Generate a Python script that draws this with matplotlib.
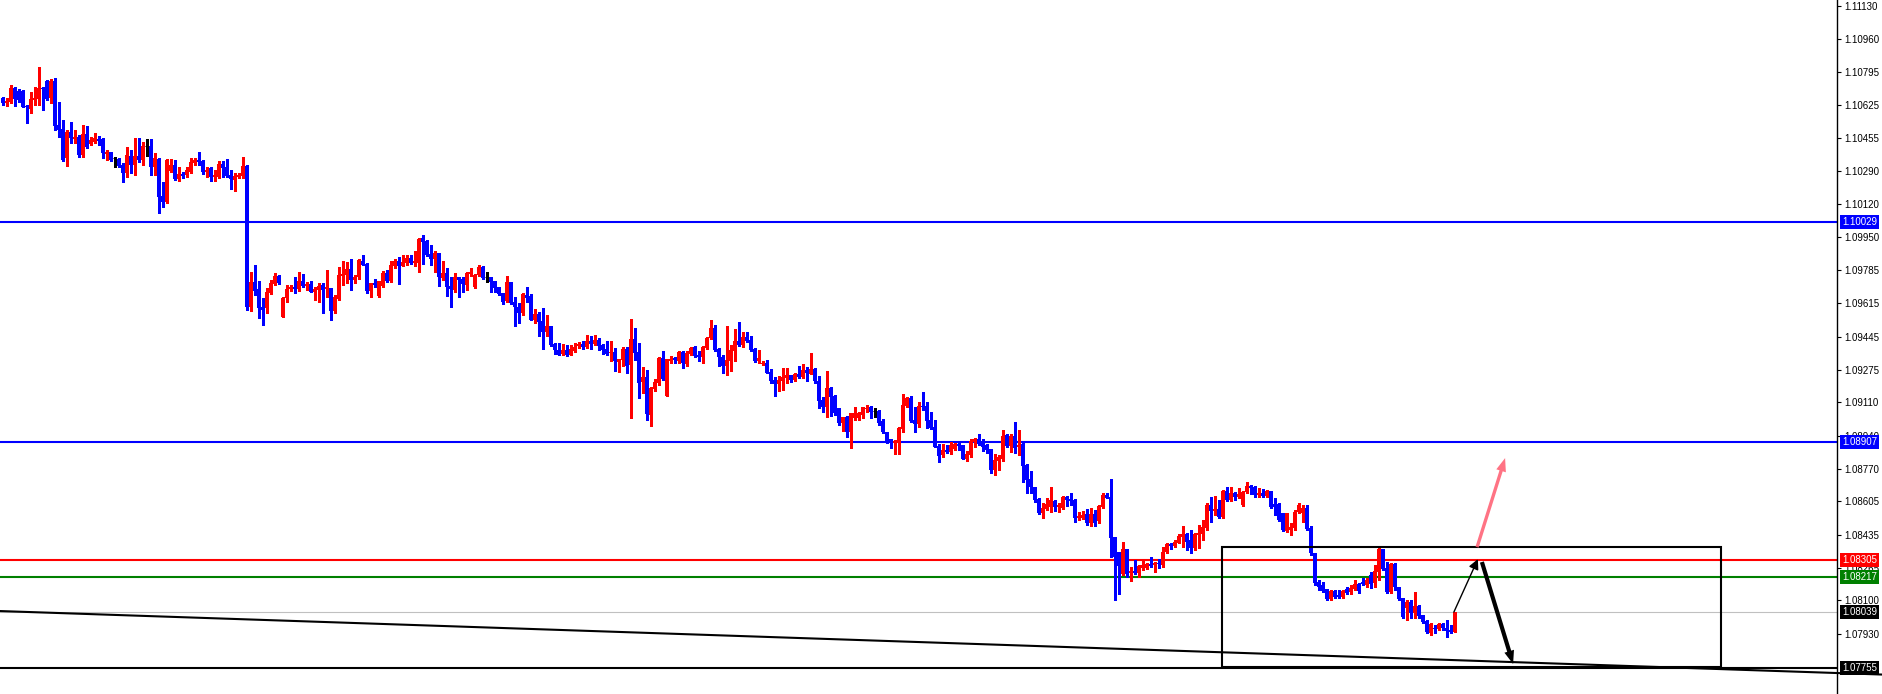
import numpy as np
import matplotlib
matplotlib.use("Agg")
import matplotlib.pyplot as plt
import matplotlib.transforms as mtransforms
from matplotlib.patches import Rectangle

# candle data, oldest bar first
opens = [
    1.10661, 1.10636, 1.10641, 1.10712, 1.10697, 1.10697, 1.10620, 1.10605, 1.10651, 1.10656,
    1.10712, 1.10748, 1.10661, 1.10748, 1.10523, 1.10503, 1.10355, 1.10488, 1.10452, 1.10462,
    1.10370, 1.10477, 1.10427, 1.10437, 1.10452, 1.10452, 1.10376, 1.10386, 1.10353, 1.10350,
    1.10319, 1.10279, 1.10365, 1.10319, 1.10365, 1.10345, 1.10419, 1.10416, 1.10309, 1.10350,
    1.10161, 1.10131, 1.10289, 1.10319, 1.10248, 1.10274, 1.10269, 1.10284, 1.10330, 1.10345,
    1.10340, 1.10284, 1.10304, 1.10258, 1.10258, 1.10325, 1.10309, 1.10269, 1.10243, 1.10258,
    1.10263, 1.10314, 1.09595, 1.09723, 1.09687, 1.09595, 1.09590, 1.09667, 1.09713, 1.09753,
    1.09544, 1.09641, 1.09687, 1.09697, 1.09687, 1.09728, 1.09702, 1.09713, 1.09672, 1.09682,
    1.09707, 1.09687, 1.09692, 1.09575, 1.09636, 1.09753, 1.09758, 1.09789, 1.09733, 1.09748,
    1.09830, 1.09815, 1.09677, 1.09718, 1.09651, 1.09702, 1.09769, 1.09728, 1.09804, 1.09830,
    1.09804, 1.09820, 1.09845, 1.09820, 1.09820, 1.09947, 1.09932, 1.09866, 1.09840, 1.09871,
    1.09743, 1.09769, 1.09702, 1.09682, 1.09748, 1.09738, 1.09707, 1.09764, 1.09697, 1.09758,
    1.09799, 1.09748, 1.09748, 1.09728, 1.09697, 1.09667, 1.09626, 1.09723, 1.09621, 1.09595,
    1.09565, 1.09656, 1.09651, 1.09529, 1.09560, 1.09524, 1.09468, 1.09498, 1.09406, 1.09376,
    1.09355, 1.09376, 1.09350, 1.09371, 1.09396, 1.09406, 1.09391, 1.09422, 1.09406, 1.09427,
    1.09401, 1.09381, 1.09361, 1.09366, 1.09315, 1.09325, 1.09381, 1.09299, 1.09432, 1.09366,
    1.09213, 1.09238, 1.09044, 1.09177, 1.09208, 1.09335, 1.09141, 1.09320, 1.09335, 1.09320,
    1.09366, 1.09305, 1.09355, 1.09391, 1.09350, 1.09340, 1.09386, 1.09437, 1.09488, 1.09381,
    1.09340, 1.09294, 1.09320, 1.09371, 1.09422, 1.09401, 1.09442, 1.09427, 1.09381, 1.09320,
    1.09307, 1.09310, 1.09264, 1.09223, 1.09203, 1.09218, 1.09233, 1.09248, 1.09223, 1.09254,
    1.09238, 1.09274, 1.09254, 1.09279, 1.09218, 1.09121, 1.09085, 1.09182, 1.09141, 1.09080,
    1.09004, 1.09034, 1.08958, 1.09029, 1.09029, 1.09044, 1.09075, 1.09085, 1.09065, 1.09065,
    1.09014, 1.08958, 1.08922, 1.08902, 1.08902, 1.08973, 1.09090, 1.09131, 1.09019, 1.08998,
    1.09090, 1.09090, 1.09019, 1.08983, 1.08886, 1.08840, 1.08866, 1.08856, 1.08871, 1.08897,
    1.08891, 1.08820, 1.08840, 1.08907, 1.08922, 1.08902, 1.08891, 1.08871, 1.08764, 1.08810,
    1.08820, 1.08943, 1.08886, 1.08937, 1.08881, 1.08897, 1.08790, 1.08718, 1.08677, 1.08616,
    1.08545, 1.08565, 1.08575, 1.08606, 1.08575, 1.08570, 1.08626, 1.08616, 1.08611, 1.08519,
    1.08519, 1.08540, 1.08494, 1.08540, 1.08504, 1.08575, 1.08636, 1.08626, 1.08422, 1.08346,
    1.08233, 1.08361, 1.08238, 1.08249, 1.08238, 1.08264, 1.08264, 1.08284, 1.08279, 1.08290,
    1.08279, 1.08346, 1.08386, 1.08376, 1.08392, 1.08422, 1.08437, 1.08407, 1.08366, 1.08432,
    1.08437, 1.08468, 1.08585, 1.08555, 1.08565, 1.08524, 1.08657, 1.08611, 1.08647, 1.08626,
    1.08585, 1.08652, 1.08682, 1.08677, 1.08636, 1.08647, 1.08631, 1.08657, 1.08591, 1.08591,
    1.08545, 1.08453, 1.08458, 1.08468, 1.08550, 1.08545, 1.08570, 1.08468, 1.08341, 1.08193,
    1.08177, 1.08157, 1.08106, 1.08147, 1.08126, 1.08116, 1.08157, 1.08142, 1.08157, 1.08182,
    1.08193, 1.08177, 1.08228, 1.08188, 1.08244, 1.08361, 1.08264, 1.08142, 1.08284, 1.08167,
    1.08111, 1.08060, 1.08091, 1.08035, 1.08070, 1.08024, 1.07994, 1.07933, 1.07958, 1.07953,
    1.07979, 1.07958, 1.07948, 1.07938,
]
highs = [
    1.10666, 1.10661, 1.10727, 1.10717, 1.10707, 1.10702, 1.10625, 1.10692, 1.10717, 1.10819,
    1.10717, 1.10753, 1.10758, 1.10763, 1.10641, 1.10549, 1.10498, 1.10539, 1.10498, 1.10472,
    1.10523, 1.10518, 1.10462, 1.10483, 1.10467, 1.10457, 1.10396, 1.10386, 1.10360, 1.10355,
    1.10330, 1.10411, 1.10396, 1.10457, 1.10457, 1.10437, 1.10452, 1.10452, 1.10381, 1.10355,
    1.10233, 1.10350, 1.10350, 1.10345, 1.10309, 1.10284, 1.10309, 1.10355, 1.10355, 1.10386,
    1.10345, 1.10309, 1.10309, 1.10294, 1.10340, 1.10340, 1.10350, 1.10294, 1.10279, 1.10279,
    1.10360, 1.10319, 1.09774, 1.09809, 1.09728, 1.09641, 1.09692, 1.09733, 1.09769, 1.09758,
    1.09646, 1.09707, 1.09707, 1.09748, 1.09774, 1.09764, 1.09723, 1.09728, 1.09697, 1.09718,
    1.09718, 1.09784, 1.09692, 1.09656, 1.09799, 1.09830, 1.09825, 1.09840, 1.09758, 1.09840,
    1.09860, 1.09820, 1.09718, 1.09738, 1.09728, 1.09779, 1.09784, 1.09830, 1.09840, 1.09850,
    1.09860, 1.09860, 1.09860, 1.09881, 1.09947, 1.09962, 1.09937, 1.09911, 1.09881, 1.09871,
    1.09830, 1.09794, 1.09748, 1.09769, 1.09748, 1.09748, 1.09774, 1.09794, 1.09764, 1.09809,
    1.09804, 1.09774, 1.09748, 1.09728, 1.09697, 1.09667, 1.09753, 1.09723, 1.09646, 1.09616,
    1.09667, 1.09697, 1.09661, 1.09585, 1.09570, 1.09590, 1.09554, 1.09498, 1.09412, 1.09412,
    1.09406, 1.09401, 1.09401, 1.09412, 1.09417, 1.09422, 1.09452, 1.09447, 1.09452, 1.09437,
    1.09406, 1.09422, 1.09422, 1.09386, 1.09330, 1.09391, 1.09391, 1.09534, 1.09488, 1.09412,
    1.09289, 1.09274, 1.09187, 1.09228, 1.09340, 1.09371, 1.09330, 1.09345, 1.09340, 1.09371,
    1.09371, 1.09371, 1.09391, 1.09396, 1.09371, 1.09396, 1.09442, 1.09529, 1.09503, 1.09386,
    1.09350, 1.09498, 1.09401, 1.09483, 1.09519, 1.09468, 1.09468, 1.09447, 1.09386, 1.09376,
    1.09320, 1.09325, 1.09279, 1.09238, 1.09243, 1.09284, 1.09284, 1.09248, 1.09259, 1.09294,
    1.09305, 1.09289, 1.09361, 1.09284, 1.09243, 1.09136, 1.09269, 1.09187, 1.09146, 1.09080,
    1.09034, 1.09039, 1.09055, 1.09085, 1.09060, 1.09085, 1.09095, 1.09090, 1.09080, 1.09070,
    1.09024, 1.08958, 1.08922, 1.08917, 1.08983, 1.09152, 1.09136, 1.09141, 1.09085, 1.09111,
    1.09162, 1.09111, 1.09060, 1.09019, 1.08897, 1.08897, 1.08891, 1.08907, 1.08902, 1.08902,
    1.08891, 1.08861, 1.08922, 1.08927, 1.08948, 1.08922, 1.08897, 1.08871, 1.08846, 1.08840,
    1.08968, 1.08948, 1.08948, 1.09009, 1.08968, 1.08902, 1.08795, 1.08759, 1.08677, 1.08621,
    1.08596, 1.08621, 1.08677, 1.08611, 1.08596, 1.08631, 1.08631, 1.08647, 1.08616, 1.08550,
    1.08555, 1.08565, 1.08570, 1.08560, 1.08585, 1.08647, 1.08647, 1.08718, 1.08422, 1.08346,
    1.08397, 1.08361, 1.08269, 1.08305, 1.08279, 1.08305, 1.08290, 1.08320, 1.08295, 1.08310,
    1.08371, 1.08392, 1.08392, 1.08407, 1.08437, 1.08478, 1.08443, 1.08458, 1.08443, 1.08483,
    1.08509, 1.08596, 1.08626, 1.08631, 1.08611, 1.08662, 1.08677, 1.08677, 1.08652, 1.08672,
    1.08657, 1.08703, 1.08688, 1.08682, 1.08672, 1.08667, 1.08662, 1.08657, 1.08621, 1.08596,
    1.08545, 1.08545, 1.08494, 1.08560, 1.08596, 1.08585, 1.08585, 1.08478, 1.08341, 1.08203,
    1.08193, 1.08157, 1.08152, 1.08152, 1.08152, 1.08152, 1.08167, 1.08177, 1.08203, 1.08188,
    1.08213, 1.08213, 1.08244, 1.08279, 1.08366, 1.08361, 1.08295, 1.08290, 1.08290, 1.08167,
    1.08111, 1.08101, 1.08101, 1.08142, 1.08075, 1.08024, 1.07999, 1.07984, 1.07974, 1.07984,
    1.07984, 1.07999, 1.07974, 1.08040,
]
lows = [
    1.10625, 1.10620, 1.10636, 1.10620, 1.10641, 1.10615, 1.10534, 1.10585, 1.10625, 1.10625,
    1.10600, 1.10651, 1.10636, 1.10498, 1.10462, 1.10340, 1.10314, 1.10432, 1.10432, 1.10360,
    1.10360, 1.10406, 1.10421, 1.10432, 1.10421, 1.10355, 1.10345, 1.10340, 1.10309, 1.10309,
    1.10233, 1.10258, 1.10279, 1.10269, 1.10335, 1.10319, 1.10365, 1.10269, 1.10269, 1.10075,
    1.10105, 1.10126, 1.10284, 1.10243, 1.10238, 1.10253, 1.10258, 1.10279, 1.10319, 1.10319,
    1.10274, 1.10258, 1.10238, 1.10238, 1.10253, 1.10258, 1.10258, 1.10197, 1.10187, 1.10253,
    1.10253, 1.09580, 1.09575, 1.09656, 1.09539, 1.09503, 1.09565, 1.09661, 1.09707, 1.09713,
    1.09544, 1.09621, 1.09677, 1.09667, 1.09677, 1.09697, 1.09682, 1.09672, 1.09631, 1.09621,
    1.09565, 1.09646, 1.09529, 1.09565, 1.09631, 1.09707, 1.09718, 1.09682, 1.09718, 1.09738,
    1.09809, 1.09667, 1.09646, 1.09697, 1.09646, 1.09697, 1.09723, 1.09723, 1.09794, 1.09713,
    1.09804, 1.09809, 1.09815, 1.09804, 1.09774, 1.09815, 1.09855, 1.09809, 1.09774, 1.09702,
    1.09733, 1.09651, 1.09595, 1.09672, 1.09646, 1.09672, 1.09682, 1.09753, 1.09692, 1.09753,
    1.09738, 1.09723, 1.09672, 1.09672, 1.09656, 1.09611, 1.09621, 1.09611, 1.09498, 1.09514,
    1.09554, 1.09621, 1.09529, 1.09514, 1.09447, 1.09381, 1.09447, 1.09396, 1.09355, 1.09350,
    1.09350, 1.09345, 1.09350, 1.09366, 1.09386, 1.09381, 1.09386, 1.09381, 1.09401, 1.09376,
    1.09355, 1.09350, 1.09320, 1.09269, 1.09264, 1.09294, 1.09259, 1.09029, 1.09325, 1.09131,
    1.09157, 1.09019, 1.08988, 1.09167, 1.09197, 1.09223, 1.09141, 1.09310, 1.09310, 1.09310,
    1.09284, 1.09294, 1.09350, 1.09340, 1.09320, 1.09310, 1.09381, 1.09432, 1.09371, 1.09294,
    1.09259, 1.09248, 1.09269, 1.09320, 1.09396, 1.09391, 1.09417, 1.09371, 1.09315, 1.09310,
    1.09299, 1.09259, 1.09208, 1.09141, 1.09167, 1.09172, 1.09208, 1.09213, 1.09218, 1.09233,
    1.09233, 1.09218, 1.09254, 1.09208, 1.09080, 1.09060, 1.09034, 1.09039, 1.09044, 1.08993,
    1.08963, 1.08932, 1.08876, 1.09019, 1.09019, 1.09029, 1.09060, 1.09029, 1.09034, 1.08993,
    1.08953, 1.08902, 1.08876, 1.08846, 1.08846, 1.08958, 1.09085, 1.09009, 1.08958, 1.08983,
    1.09070, 1.08978, 1.08973, 1.08881, 1.08805, 1.08830, 1.08851, 1.08846, 1.08866, 1.08866,
    1.08820, 1.08810, 1.08830, 1.08881, 1.08891, 1.08861, 1.08851, 1.08749, 1.08738, 1.08764,
    1.08810, 1.08881, 1.08856, 1.08851, 1.08840, 1.08703, 1.08647, 1.08647, 1.08601, 1.08540,
    1.08519, 1.08560, 1.08550, 1.08555, 1.08550, 1.08565, 1.08580, 1.08585, 1.08499, 1.08509,
    1.08514, 1.08483, 1.08478, 1.08478, 1.08494, 1.08570, 1.08621, 1.08320, 1.08101, 1.08131,
    1.08228, 1.08218, 1.08198, 1.08233, 1.08218, 1.08254, 1.08259, 1.08269, 1.08244, 1.08264,
    1.08269, 1.08341, 1.08361, 1.08371, 1.08392, 1.08371, 1.08356, 1.08341, 1.08356, 1.08366,
    1.08407, 1.08458, 1.08499, 1.08534, 1.08519, 1.08519, 1.08606, 1.08606, 1.08611, 1.08621,
    1.08580, 1.08647, 1.08642, 1.08626, 1.08626, 1.08626, 1.08626, 1.08570, 1.08534, 1.08504,
    1.08453, 1.08448, 1.08432, 1.08458, 1.08545, 1.08499, 1.08458, 1.08330, 1.08177, 1.08152,
    1.08142, 1.08101, 1.08101, 1.08111, 1.08111, 1.08111, 1.08131, 1.08131, 1.08152, 1.08136,
    1.08177, 1.08167, 1.08162, 1.08167, 1.08203, 1.08254, 1.08136, 1.08136, 1.08152, 1.08101,
    1.08009, 1.07999, 1.08009, 1.08009, 1.08009, 1.07984, 1.07933, 1.07923, 1.07933, 1.07948,
    1.07948, 1.07912, 1.07933, 1.07938,
]
closes = [
    1.10636, 1.10646, 1.10712, 1.10656, 1.10651, 1.10615, 1.10615, 1.10656, 1.10661, 1.10712,
    1.10707, 1.10656, 1.10748, 1.10518, 1.10498, 1.10345, 1.10488, 1.10457, 1.10462, 1.10370,
    1.10477, 1.10411, 1.10447, 1.10457, 1.10442, 1.10381, 1.10386, 1.10345, 1.10353, 1.10314,
    1.10279, 1.10370, 1.10319, 1.10365, 1.10345, 1.10416, 1.10419, 1.10309, 1.10355, 1.10156,
    1.10131, 1.10345, 1.10319, 1.10248, 1.10274, 1.10263, 1.10294, 1.10335, 1.10345, 1.10335,
    1.10284, 1.10294, 1.10258, 1.10269, 1.10325, 1.10304, 1.10263, 1.10248, 1.10263, 1.10269,
    1.10314, 1.09595, 1.09723, 1.09677, 1.09590, 1.09580, 1.09672, 1.09718, 1.09753, 1.09718,
    1.09641, 1.09687, 1.09697, 1.09687, 1.09728, 1.09702, 1.09713, 1.09672, 1.09687, 1.09702,
    1.09682, 1.09697, 1.09575, 1.09646, 1.09758, 1.09764, 1.09789, 1.09733, 1.09748, 1.09835,
    1.09809, 1.09677, 1.09718, 1.09707, 1.09728, 1.09769, 1.09728, 1.09809, 1.09830, 1.09804,
    1.09825, 1.09845, 1.09820, 1.09830, 1.09942, 1.09927, 1.09860, 1.09840, 1.09871, 1.09748,
    1.09769, 1.09697, 1.09687, 1.09748, 1.09733, 1.09713, 1.09769, 1.09774, 1.09758, 1.09799,
    1.09743, 1.09748, 1.09723, 1.09692, 1.09661, 1.09621, 1.09723, 1.09616, 1.09595, 1.09565,
    1.09661, 1.09641, 1.09529, 1.09560, 1.09519, 1.09468, 1.09498, 1.09401, 1.09376, 1.09350,
    1.09376, 1.09350, 1.09381, 1.09391, 1.09406, 1.09391, 1.09422, 1.09406, 1.09427, 1.09396,
    1.09376, 1.09355, 1.09366, 1.09320, 1.09330, 1.09381, 1.09294, 1.09432, 1.09361, 1.09208,
    1.09238, 1.09050, 1.09182, 1.09213, 1.09335, 1.09228, 1.09330, 1.09330, 1.09325, 1.09366,
    1.09310, 1.09361, 1.09386, 1.09345, 1.09340, 1.09391, 1.09437, 1.09488, 1.09376, 1.09340,
    1.09294, 1.09325, 1.09376, 1.09422, 1.09401, 1.09442, 1.09422, 1.09376, 1.09320, 1.09335,
    1.09312, 1.09259, 1.09218, 1.09203, 1.09223, 1.09238, 1.09248, 1.09223, 1.09254, 1.09238,
    1.09274, 1.09259, 1.09279, 1.09218, 1.09116, 1.09085, 1.09182, 1.09136, 1.09055, 1.09004,
    1.09034, 1.08958, 1.09055, 1.09055, 1.09055, 1.09085, 1.09080, 1.09060, 1.09065, 1.09004,
    1.08958, 1.08912, 1.08902, 1.08912, 1.08978, 1.09095, 1.09131, 1.09014, 1.08998, 1.09090,
    1.09085, 1.09014, 1.08978, 1.08881, 1.08835, 1.08866, 1.08856, 1.08891, 1.08897, 1.08886,
    1.08820, 1.08846, 1.08912, 1.08922, 1.08897, 1.08881, 1.08866, 1.08764, 1.08815, 1.08830,
    1.08937, 1.08886, 1.08937, 1.08876, 1.08891, 1.08785, 1.08713, 1.08677, 1.08611, 1.08545,
    1.08570, 1.08591, 1.08611, 1.08575, 1.08585, 1.08626, 1.08611, 1.08606, 1.08519, 1.08529,
    1.08534, 1.08494, 1.08540, 1.08494, 1.08580, 1.08636, 1.08621, 1.08417, 1.08320, 1.08274,
    1.08361, 1.08233, 1.08249, 1.08238, 1.08274, 1.08279, 1.08284, 1.08274, 1.08290, 1.08284,
    1.08346, 1.08386, 1.08376, 1.08397, 1.08427, 1.08437, 1.08397, 1.08366, 1.08437, 1.08443,
    1.08473, 1.08585, 1.08555, 1.08565, 1.08524, 1.08657, 1.08611, 1.08647, 1.08626, 1.08642,
    1.08652, 1.08682, 1.08672, 1.08636, 1.08647, 1.08631, 1.08657, 1.08575, 1.08575, 1.08509,
    1.08458, 1.08545, 1.08473, 1.08550, 1.08585, 1.08570, 1.08463, 1.08341, 1.08188, 1.08167,
    1.08147, 1.08106, 1.08147, 1.08116, 1.08116, 1.08147, 1.08136, 1.08162, 1.08182, 1.08147,
    1.08182, 1.08203, 1.08182, 1.08249, 1.08361, 1.08259, 1.08142, 1.08284, 1.08167, 1.08106,
    1.08014, 1.08091, 1.08035, 1.08070, 1.08019, 1.07989, 1.07938, 1.07979, 1.07953, 1.07979,
    1.07958, 1.07943, 1.07938, 1.08039,
]

# price scale labels on the right
price_ticks = [1.11130, 1.10960, 1.10795, 1.10625, 1.10455, 1.10290, 1.10120, 1.09950,
               1.09785, 1.09615, 1.09445, 1.09275, 1.09110, 1.08940, 1.08770, 1.08605,
               1.08435, 1.08265, 1.08100, 1.07930]

# horizontal levels drawn on the chart
level_prices = [1.10029, 1.08907, 1.08305, 1.08217, 1.07755]
level_colors = ["#0000FF", "#0000FF", "#FF0000", "#008000", "#000000"]
bid_price = 1.08039

# trend line (bar index, price) and the box around the last swing
trend_bars = [-0.675, 470.1]
trend_prices = [1.08045, 1.07721]
box_bars = [304.75, 429.6]
box_prices = [1.07760, 1.08372]

n = len(closes)
x = np.arange(n)
o = np.array(opens)
h = np.array(highs)
l = np.array(lows)
c = np.array(closes)

colors = np.where(c > o, "#FF0000", np.where(c < o, "#0000FF", "#000000"))
body = c != o

fig = plt.figure(figsize=(18.83, 6.94), dpi=100)
ax = fig.add_axes([0, 0, 1837 / 1883, 1])
ax.set_xlim(-0.675, 458.575)
ax.set_ylim(1.07622, 1.11161)

# levels
for p, col in zip(level_prices, level_colors):
    ax.axhline(p, color=col, lw=1.5, zorder=1)
ax.axhline(bid_price, color="#C0C0C0", lw=0.8, zorder=1)

# trend line runs a bit under the price scale
ax.plot(trend_bars, trend_prices, color="black", lw=1.5, clip_on=False, zorder=1)

# candles
ax.vlines(x, l, h, colors=colors, lw=0.75, antialiased=False, zorder=2)
ax.bar(x[body], (c - o)[body], bottom=o[body], width=0.75, color=colors[body],
       linewidth=0, antialiased=False, zorder=2)
ax.hlines(c[~body], x[~body] - 0.4, x[~body] + 0.4, colors="black", lw=0.75, zorder=2)

# box
ax.add_patch(Rectangle((box_bars[0], box_prices[0]), box_bars[1] - box_bars[0],
                       box_prices[1] - box_prices[0], fill=False, ec="black", lw=1.5, zorder=3))

# scenario arrows
ax.annotate("", xy=(368.8, 1.08310), xytext=(362.8, 1.08040),
            arrowprops=dict(arrowstyle="-|>,head_length=0.6,head_width=0.3", color="black",
                            lw=1.0, shrinkA=0, shrinkB=0), zorder=4)
ax.annotate("", xy=(375.6, 1.08825), xytext=(368.6, 1.08371),
            arrowprops=dict(arrowstyle="simple,head_length=0.8,head_width=0.6,tail_width=0.2",
                            color="#FF5A6E", alpha=0.85, lw=0, shrinkA=0, shrinkB=0,
                            mutation_scale=12), zorder=4)
ax.annotate("", xy=(377.6, 1.07775), xytext=(369.8, 1.08295),
            arrowprops=dict(arrowstyle="simple,head_length=0.8,head_width=0.6,tail_width=0.25",
                            color="black", lw=0, shrinkA=0, shrinkB=0,
                            mutation_scale=12), zorder=4)

# axes look: only the price scale on the right
for side in ["left", "top", "bottom"]:
    ax.spines[side].set_visible(False)
ax.spines["right"].set_linewidth(1.0)
ax.set_xticks([])
ax.yaxis.tick_right()
ax.set_yticks(price_ticks)
ax.set_yticklabels(["%.5f" % t for t in price_ticks], fontsize=7, family="Liberation Sans")
ax.tick_params(axis="y", direction="out", length=3, width=0.8, pad=2)

# coloured price labels on the scale
tr = mtransforms.blended_transform_factory(ax.transAxes, ax.transData)
for p, col in zip(level_prices + [bid_price], level_colors + ["#000000"]):
    ax.text(1.0 + 5 / 1837, p, "%.5f" % p, transform=tr, ha="left", va="center",
            fontsize=7, family="Liberation Sans", color="white", clip_on=False, zorder=6,
            bbox=dict(boxstyle="square,pad=0.2", fc=col, ec="none"))

fig.savefig("out.png", dpi=100, facecolor="white")
